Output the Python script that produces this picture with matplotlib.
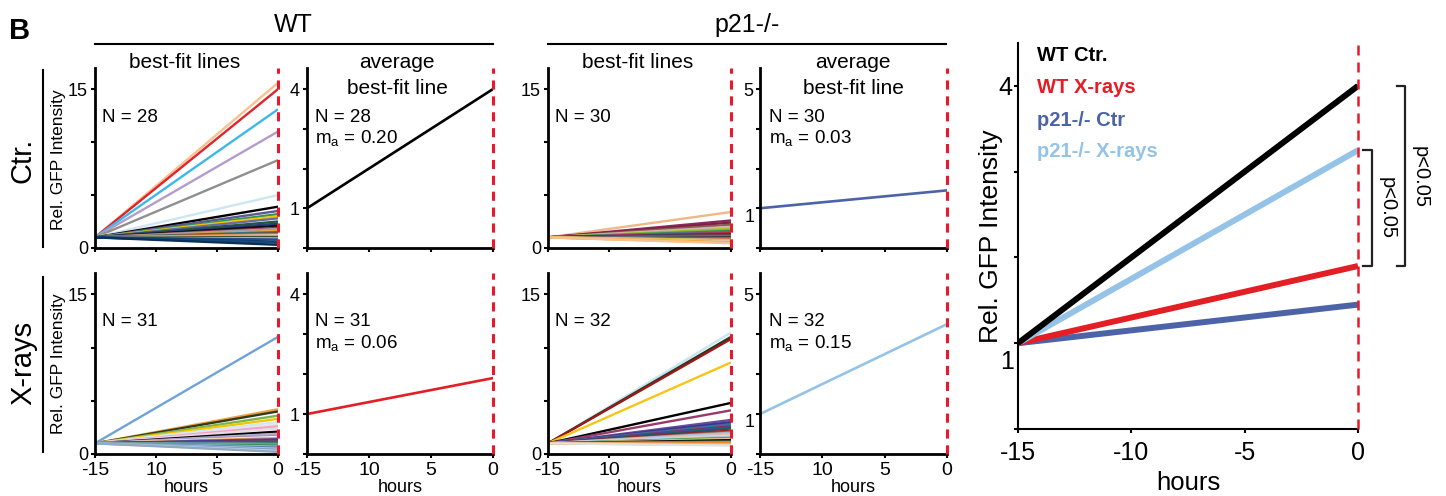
import matplotlib
matplotlib.use('Agg')
import matplotlib.pyplot as plt
from matplotlib.lines import Line2D

plt.rcParams['font.family'] = ['Liberation Sans', 'DejaVu Sans']
plt.rcParams['mathtext.fontset'] = 'custom'
plt.rcParams['mathtext.rm'] = 'Liberation Sans'

# ---------------- data ----------------
hours_fit = [-15, 0]
start_value = 1.0

wt_ctr_end = [15.6, 15.0, 13.1, 11.0, 8.3, 5.0, 3.9, 3.5, 3.2, 3.0, 2.8, 2.5, 2.3, 2.1,
              1.9, 1.8, 1.6, 1.5, 1.4, 1.3, 1.2, 1.1, 1.0, 0.9, 0.8, 0.6, 0.5, 0.3]
wt_ctr_colors = ['#f6c28f', '#e0232c', '#3db7e9', '#b49bcc', '#8f8f8f', '#cde7f1', '#000000',
                 '#5e5597', '#2d9657', '#f5c400', '#6a6aa8', '#1f5a3a', '#2b3f7f', '#111111',
                 '#8c2b52', '#a0a0a0', '#f39a2c', '#2a7f8f', '#6f4f2f', '#e8772e', '#d0d0d0',
                 '#9ec9e2', '#3e4f2a', '#c0c0c0', '#1f4f8f', '#0f3d6b', '#174a7c', '#0c2f55']

wt_xr_end = [11.0, 4.2, 4.0, 3.6, 3.3, 3.0, 2.8, 2.6, 2.4, 2.1, 1.9, 1.7, 1.6, 1.5, 1.4, 1.3,
             1.2, 1.15, 1.1, 1.05, 1.0, 0.95, 0.9, 0.85, 0.8, 0.7, 0.6, 0.5, 0.4, 0.3, 0.2]
wt_xr_colors = ['#6fa3d8', '#f0a040', '#2f3a1f', '#7ab648', '#f5c400', '#cfe8f0', '#e6e6e6',
                '#f2a2c2', '#ead8e8', '#000000', '#b8a8d0', '#9a8ab8', '#f6f6f6', '#f0a040',
                '#6a4a9a', '#3b3b9a', '#8b2a4d', '#2a7f8f', '#4a4a4a', '#2e8b57', '#1f5a3a',
                '#9ec9e2', '#3e6fa8', '#c0c0c0', '#2e8b57', '#8fb8d8', '#5b7fa8', '#a8c8e0',
                '#7f9fbf', '#b8d0e8', '#90a8c0']

p21_ctr_end = [3.4, 2.6, 2.4, 2.2, 2.0, 1.8, 1.7, 1.6, 1.5, 1.45, 1.4, 1.35, 1.3, 1.25, 1.2,
               1.15, 1.1, 1.05, 1.0, 0.95, 0.9, 0.85, 0.8, 0.75, 0.7, 0.65, 0.6, 0.55, 0.5, 0.45]
p21_ctr_colors = ['#f0b888', '#8b2a5a', '#7a2040', '#8b5a5a', '#d8b0b0', '#a0c020', '#7ab648',
                  '#2e8b57', '#6a6aa0', '#5a5a9a', '#e0232c', '#8b2a5a', '#2b3f7f', '#3a3a3a',
                  '#9a3a6a', '#1f5a3a', '#f39a2c', '#6f4f2f', '#111111', '#c0c0c0', '#2a7f8f',
                  '#8c2b52', '#e8772e', '#9ec9e2', '#f5c400', '#f0a040', '#cde7f1', '#f39a2c',
                  '#f5b050', '#f6c28f']

p21_xr_end = [11.4, 11.0, 10.8, 8.6, 4.8, 4.1, 3.2, 3.0, 2.9, 2.8, 2.7, 2.6, 2.5, 2.4, 2.2, 2.1,
              2.0, 1.9, 1.8, 1.7, 1.6, 1.5, 1.45, 1.4, 1.3, 1.2, 1.1, 1.0, 0.95, 0.9, 0.85, 0.8]
p21_xr_colors = ['#c8e4f0', '#1f3a1f', '#9a1a1a', '#f5c518', '#000000', '#9a3a6a', '#6a4a9a',
                 '#3b3b9a', '#2b3f7f', '#5a5ab0', '#2a7f8f', '#8b2a5a', '#3e4fa8', '#1f5a6a',
                 '#9a1a1a', '#8b5a3a', '#b0b0d0', '#a8c8e0', '#f0c0a0', '#d8d8d8', '#9ec9e2',
                 '#2e8b57', '#7ab648', '#f6c28f', '#000000', '#3e4f2a', '#f39a2c', '#e8772e',
                 '#f0a040', '#c0c0c0', '#f5b050', '#e0e0e0']

slope_wt_ctr = 0.20
slope_wt_xr = 0.06
slope_p21_ctr = 0.03
slope_p21_xr = 0.15
n_counts = {'wt_ctr': 28, 'wt_xr': 31, 'p21_ctr': 30, 'p21_xr': 32}

x_ticks = [-15, -10, -5, 0]
x_ticklabels_small = ['-15', '10', '5', '0']
x_ticklabels_big = ['-15', '-10', '-5', '0']

RED_DASH = '#e8192c'
C_WT_CTR = '#000000'
C_WT_XR = '#e31e24'
C_P21_CTR = '#4d63a8'
C_P21_XR = '#94c3e7'

# ---------------- layout ----------------
W, H = 1446, 496
fig = plt.figure(figsize=(W / 100, H / 100), dpi=100)


def rect(x0, y0, x1, y1):
    return [x0 / W, 1 - y1 / H, (x1 - x0) / W, (y1 - y0) / H]


def fig_xy(x, y):
    return x / W, 1 - y / H


YTICK_FS = 13
XTICK_FS = 14


def style_small(ax, ylim, yticks, ylabels, bottom_row, manual_labels=()):
    ax.set_xlim(-15, 0)
    ax.set_ylim(*ylim)
    for s in ['top', 'right']:
        ax.spines[s].set_visible(False)
    for s in ['left', 'bottom']:
        ax.spines[s].set_linewidth(2.0)
    ax.set_xticks(x_ticks)
    if bottom_row:
        ax.set_xticklabels(x_ticklabels_small, fontsize=XTICK_FS)
        ax.set_xlabel('hours', fontsize=13, labelpad=0)
    else:
        ax.set_xticklabels([])
    ax.set_yticks(yticks)
    ax.set_yticklabels(ylabels, fontsize=YTICK_FS)
    ax.tick_params(direction='out', length=3, width=1.5, pad=2)
    ax.tick_params(axis='x', pad=3)
    for (yv, txt) in manual_labels:
        ax.text(-0.03, yv, txt, transform=ax.get_yaxis_transform(), ha='right', va='center',
                fontsize=YTICK_FS)
    ax.axvline(0, color=RED_DASH, lw=2.2, ls=(0, (3, 2.2)), clip_on=False, zorder=5)


def draw_fits(ax, ends, colors):
    for v, c in zip(ends, colors):
        ax.plot(hours_fit, [start_value, v], color=c, lw=1.7, solid_capstyle='butt')


def draw_avg(ax, slope, color):
    ax.plot(hours_fit, [start_value, start_value + slope * 15], color=color, lw=1.9)


# panel positions (pixels)
cols = [(95, 278), (307, 493), (548, 731), (760, 947)]
rows = [(68, 248), (273, 454)]

fit_ylim = (0, 17)
avg_ylim = (0, 4.53)

# WT Ctr best-fit
ax = fig.add_axes(rect(cols[0][0], rows[0][0], cols[0][1], rows[0][1]))
draw_fits(ax, wt_ctr_end, wt_ctr_colors)
style_small(ax, fit_ylim, [0, 5, 10, 15], ['0', '', '', '15'], False)
# WT X-rays best-fit
ax = fig.add_axes(rect(cols[0][0], rows[1][0], cols[0][1], rows[1][1]))
draw_fits(ax, wt_xr_end, wt_xr_colors)
style_small(ax, fit_ylim, [0, 5, 10, 15], ['0', '', '', '15'], True)
# p21 Ctr best-fit
ax = fig.add_axes(rect(cols[2][0], rows[0][0], cols[2][1], rows[0][1]))
draw_fits(ax, p21_ctr_end, p21_ctr_colors)
style_small(ax, fit_ylim, [0, 5, 10, 15], ['0', '', '', '15'], False)
# p21 X-rays best-fit
ax = fig.add_axes(rect(cols[2][0], rows[1][0], cols[2][1], rows[1][1]))
draw_fits(ax, p21_xr_end, p21_xr_colors)
style_small(ax, fit_ylim, [0, 5, 10, 15], ['0', '', '', '15'], True)

# averages
ax = fig.add_axes(rect(cols[1][0], rows[0][0], cols[1][1], rows[0][1]))
draw_avg(ax, slope_wt_ctr, C_WT_CTR)
style_small(ax, avg_ylim, [0, 1, 2, 3, 4], ['', '1', '', '', '4'], False)
ax = fig.add_axes(rect(cols[1][0], rows[1][0], cols[1][1], rows[1][1]))
draw_avg(ax, slope_wt_xr, C_WT_XR)
style_small(ax, avg_ylim, [0, 1, 2, 3, 4], ['', '1', '', '', '4'], True)
ax = fig.add_axes(rect(cols[3][0], rows[0][0], cols[3][1], rows[0][1]))
draw_avg(ax, slope_p21_ctr, C_P21_CTR)
style_small(ax, avg_ylim, [0, 1, 2, 3, 4], ['', '', '', '', '5'], False, [(0.78, '1')])
ax = fig.add_axes(rect(cols[3][0], rows[1][0], cols[3][1], rows[1][1]))
draw_avg(ax, slope_p21_xr, C_P21_XR)
style_small(ax, avg_ylim, [0, 1, 2, 3, 4], ['', '', '', '', '5'], True, [(0.78, '1')])

# N / m_a annotations
TXT_FS = 13.5
ann = [
    (102, 117, 'N = %d' % n_counts['wt_ctr'], None),
    (315, 117, 'N = %d' % n_counts['wt_ctr'], slope_wt_ctr),
    (555, 117, 'N = %d' % n_counts['p21_ctr'], None),
    (769, 117, 'N = %d' % n_counts['p21_ctr'], slope_p21_ctr),
    (102, 322, 'N = %d' % n_counts['wt_xr'], None),
    (315, 322, 'N = %d' % n_counts['wt_xr'], slope_wt_xr),
    (555, 322, 'N = %d' % n_counts['p21_xr'], None),
    (769, 322, 'N = %d' % n_counts['p21_xr'], slope_p21_xr),
]
for x, y, t, m in ann:
    fig.text(*fig_xy(x, y), t, ha='left', va='center', fontsize=TXT_FS)
    if m is not None:
        fig.text(*fig_xy(x, y + 22), r'm$_{\mathregular{a}}$ = %.2f' % m, ha='left',
                 va='center', fontsize=TXT_FS)

# headers
fig.text(*fig_xy(9, 31), 'B', fontsize=21, fontweight='bold', ha='left', va='center')
fig.text(*fig_xy(293, 25), 'WT', fontsize=18, ha='center', va='center')
fig.text(*fig_xy(747, 25), 'p21-/-', fontsize=18, ha='center', va='center')
fig.add_artist(Line2D([95 / W, 493 / W], [1 - 44 / H] * 2, color='k', lw=1.5))
fig.add_artist(Line2D([548 / W, 946 / W], [1 - 44 / H] * 2, color='k', lw=1.5))
for cx in [185, 638]:
    fig.text(*fig_xy(cx, 63), 'best-fit lines', fontsize=15, ha='center', va='center')
for cx in [397, 853]:
    fig.text(*fig_xy(cx, 63), 'average', fontsize=15, ha='center', va='center')
    fig.text(*fig_xy(cx, 88), 'best-fit line', fontsize=15, ha='center', va='center')

# row labels
fig.text(*fig_xy(23, 160), 'Ctr.', fontsize=21, rotation=90, ha='center', va='center')
fig.text(*fig_xy(23, 363), 'X-rays', fontsize=21, rotation=90, ha='center', va='center')
fig.add_artist(Line2D([43 / W] * 2, [1 - 70 / H, 1 - 247 / H], color='k', lw=1.5))
fig.add_artist(Line2D([43 / W] * 2, [1 - 277 / H, 1 - 452 / H], color='k', lw=1.5))
fig.text(*fig_xy(58, 160), 'Rel. GFP Intensity', fontsize=12.5, rotation=90, ha='center',
         va='center')
fig.text(*fig_xy(58, 364), 'Rel. GFP Intensity', fontsize=12.5, rotation=90, ha='center',
         va='center')

# ---------------- right summary panel ----------------
axr = fig.add_axes(rect(1018, 43, 1358, 429))
summary = [(slope_wt_ctr, C_WT_CTR, 'WT Ctr.'),
           (slope_wt_xr, C_WT_XR, 'WT X-rays'),
           (slope_p21_ctr, C_P21_CTR, 'p21-/- Ctr'),
           (slope_p21_xr, C_P21_XR, 'p21-/- X-rays')]
draw_order = [2, 1, 3, 0]
for i in draw_order:
    s, c, _ = summary[i]
    axr.plot(hours_fit, [start_value, start_value + s * 15], color=c, lw=4.3,
             solid_capstyle='butt')
axr.set_xlim(-15, 0)
axr.set_ylim(0, 4.5)
for s in ['top', 'right']:
    axr.spines[s].set_visible(False)
for s in ['left', 'bottom']:
    axr.spines[s].set_linewidth(1.5)
axr.set_xticks(x_ticks)
axr.set_xticklabels(x_ticklabels_big, fontsize=18)
axr.set_yticks([0, 1, 2, 3, 4])
axr.set_yticklabels(['', '', '', '', '4'], fontsize=18)
axr.tick_params(direction='out', length=3, width=1.5, pad=1)
axr.tick_params(axis='x', pad=6)
axr.text(-0.012, 0.78, '1', transform=axr.get_yaxis_transform(), ha='right', va='center',
         fontsize=18)
axr.set_xlabel('hours', fontsize=18.5, labelpad=4)
axr.set_ylabel('Rel. GFP Intensity', fontsize=19, labelpad=-3)
axr.axvline(0, color=RED_DASH, lw=1.8, ls=(0, (4, 2.8)), clip_on=False, zorder=5)

leg_y = [4.36, 3.98, 3.60, 3.23]
for (s, c, lab), yv in zip(summary, leg_y):
    axr.text(-14.16, yv, lab, color=c, fontsize=14.5, fontweight='bold', ha='left', va='center')

# significance brackets
end_vals = [start_value + s * 15 for s, _, _ in summary]
outer = (2.07, 1.72, end_vals[0], end_vals[1])
inner = (0.62, 0.22, end_vals[3], end_vals[1])
for bx, bx0, ytop, ybot in [outer, inner]:
    axr.plot([bx0, bx, bx, bx0], [ytop, ytop, ybot, ybot], color='#222222', lw=1.6,
             clip_on=False)
axr.text(2.74, 2.94, 'p<0.05', rotation=270, fontsize=14.5, ha='center', va='center')
axr.text(1.28, 2.58, 'p<0.05', rotation=270, fontsize=14.5, ha='center', va='center')

fig.savefig('out.png', dpi=100)
